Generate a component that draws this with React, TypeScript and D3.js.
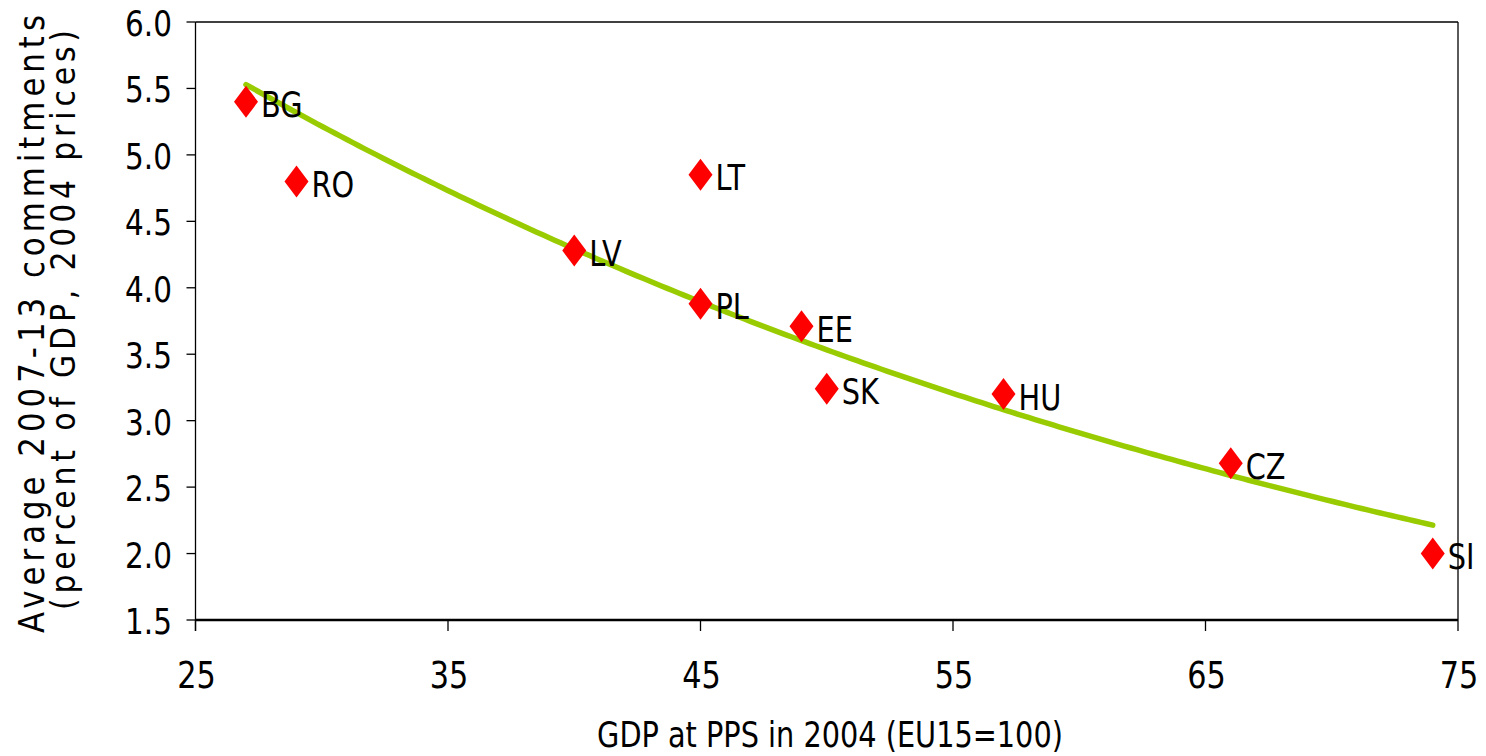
import React from "react";
import * as d3 from "d3";

// Country codes, GDP at PPS in 2004 (EU15=100) and average 2007-13 commitments (% of GDP)
const countries = ["BG", "RO", "LV", "LT", "PL", "EE", "SK", "HU", "CZ", "SI"];
const gdpPps = [27, 29, 40, 45, 45, 49, 50, 57, 66, 74];
const commitments = [5.4, 4.8, 4.28, 4.85, 3.88, 3.71, 3.24, 3.2, 2.68, 2.0];

const xTicks = [25, 35, 45, 55, 65, 75];
const yTicks = [1.5, 2.0, 2.5, 3.0, 3.5, 4.0, 4.5, 5.0, 5.5, 6.0];

const W = 1486;
const H = 756;
const plot = { left: 195.5, right: 1458, top: 22, bottom: 620 };

const FONT = "'DejaVu Sans', Verdana, sans-serif";
const NARROW = 0.82; // horizontal squeeze applied to all text

// Exponential trend: least squares of ln(y) on x, y = exp(a + b x)
function expFit(xs: number[], ys: number[]) {
  const ly = ys.map((v) => Math.log(v));
  const mx = d3.mean(xs) as number;
  const my = d3.mean(ly) as number;
  let sxy = 0;
  let sxx = 0;
  xs.forEach((x, i) => {
    sxy += (x - mx) * (ly[i] - my);
    sxx += (x - mx) * (x - mx);
  });
  const b = sxy / sxx;
  const a = my - b * mx;
  return (x: number) => Math.exp(a + b * x);
}

export default function App() {
  const x = d3.scaleLinear().domain([25, 75]).range([plot.left, plot.right]);
  const y = d3.scaleLinear().domain([1.5, 6.0]).range([plot.bottom, plot.top]);

  const trend = expFit(gdpPps, commitments);
  const [xmin, xmax] = d3.extent(gdpPps) as [number, number];
  const trendXs = d3.range(xmin, xmax + 1e-9, (xmax - xmin) / 200);
  const trendPath = d3
    .line<number>()
    .x((d) => x(d))
    .y((d) => y(trend(d)))(trendXs) as string;

  const diamond = "M0,-16L12,0L0,16L-12,0Z";

  return (
    <div style={{ position: "absolute", left: 0, top: 0 }}>
      <svg width={W} height={H} style={{ display: "block", background: "#fff" }}>
        {/* frame */}
        <line x1={plot.left} x2={plot.right} y1={plot.top} y2={plot.top} stroke="#000" strokeWidth={1.3} />
        <line x1={plot.right} x2={plot.right} y1={plot.top} y2={plot.bottom} stroke="#000" strokeWidth={1.3} />
        <line x1={plot.left} x2={plot.left} y1={plot.top} y2={plot.bottom + 11} stroke="#000" strokeWidth={1.3} />
        <line x1={plot.left} x2={plot.right} y1={plot.bottom} y2={plot.bottom} stroke="#000" strokeWidth={2.5} />

        {/* y axis ticks and labels */}
        {yTicks.map((t) => (
          <g key={"y" + t}>
            <line x1={plot.left - 9} x2={plot.left} y1={y(t)} y2={y(t)} stroke="#000" strokeWidth={1.3} />
            <text
              transform={`translate(172,${y(t) + 14}) scale(${NARROW},1)`}
              textAnchor="end"
              fontFamily={FONT}
              fontSize={36}
              fill="#000"
            >
              {d3.format(".1f")(t)}
            </text>
          </g>
        ))}

        {/* x axis ticks and labels */}
        {xTicks.map((t) => (
          <g key={"x" + t}>
            <line x1={x(t)} x2={x(t)} y1={plot.bottom} y2={plot.bottom + 11} stroke="#000" strokeWidth={1.3} />
            <text
              transform={`translate(${x(t) + 1},688) scale(${NARROW},1)`}
              textAnchor="middle"
              fontFamily={FONT}
              fontSize={37}
              fill="#000"
            >
              {t}
            </text>
          </g>
        ))}

        {/* axis titles */}
        <text
          transform={`translate(${(595 + 1065) / 2},747) scale(0.81,1)`}
          textAnchor="middle"
          fontFamily={FONT}
          fontSize={35.5}
          fill="#000"
        >
          GDP at PPS in 2004 (EU15=100)
        </text>
        <text
          transform="translate(44,633) rotate(-90) scale(0.88,1)"
          fontFamily={FONT}
          fontSize={35}
          fill="#000"
          textLength={618 / 0.88}
          lengthAdjust="spacing"
        >
          Average 2007-13 commitments
        </text>
        <text
          transform="translate(75,610) rotate(-90) scale(0.88,1)"
          fontFamily={FONT}
          fontSize={34}
          fill="#000"
          textLength={580 / 0.88}
          lengthAdjust="spacing"
        >
          (percent of GDP, 2004 prices)
        </text>

        {/* trend line */}
        <path d={trendPath} fill="none" stroke="#99CC00" strokeWidth={5.5} strokeLinecap="round" />

        {/* points and labels */}
        {countries.map((c, i) => (
          <g key={c}>
            <path d={diamond} transform={`translate(${x(gdpPps[i])},${y(commitments[i])})`} fill="#FF0000" />
            <text
              transform={`translate(${x(gdpPps[i]) + 15},${y(commitments[i]) + 15.5}) scale(0.8,1)`}
              fontFamily={FONT}
              fontSize={36}
              fill="#000"
            >
              {c}
            </text>
          </g>
        ))}
      </svg>
    </div>
  );
}
